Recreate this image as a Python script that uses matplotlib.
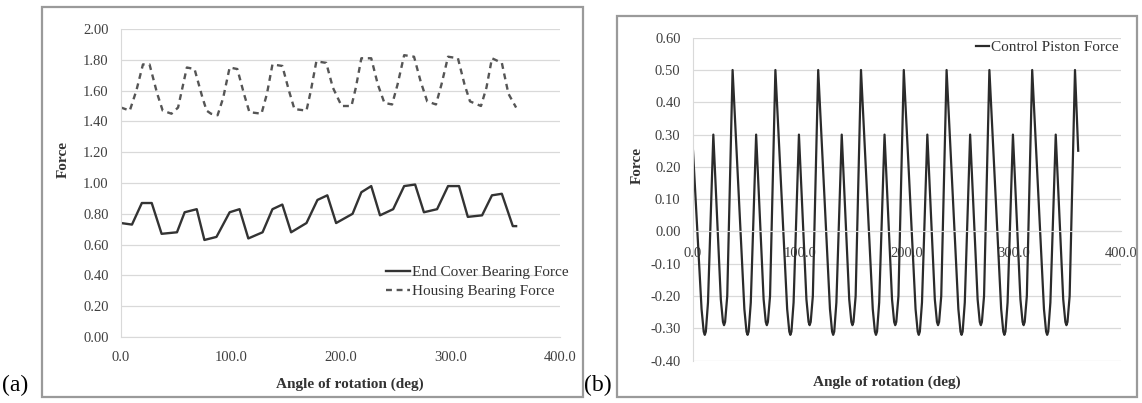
import matplotlib.pyplot as plt
from matplotlib.patches import Rectangle

# (a) bearing forces
ec_angle = [0, 10, 19, 28, 37, 51, 58, 69, 76, 87, 99, 108, 116, 129, 138, 147,
            155, 169, 179, 188, 196, 211, 219, 228, 236, 248, 258, 268, 276,
            288, 298, 308, 316, 329, 338, 347, 357, 360]
ec_force = [0.74, 0.73, 0.87, 0.87, 0.67, 0.68, 0.81, 0.83, 0.63, 0.65, 0.81, 0.83,
            0.64, 0.68, 0.83, 0.86, 0.68, 0.74, 0.89, 0.92, 0.74, 0.80, 0.94, 0.98,
            0.79, 0.83, 0.98, 0.99, 0.81, 0.83, 0.98, 0.98, 0.78, 0.79, 0.92, 0.93,
            0.72, 0.72]

hb_angle = [0, 8, 14, 20, 26, 33, 38, 46, 52, 60, 67, 74, 78, 82, 88, 93, 99, 106,
            112, 117, 128, 133, 138, 147, 153, 158, 169, 173, 178, 187, 193, 201,
            210, 214, 219, 228, 234, 240, 247, 252, 258, 267, 273, 279, 287, 292,
            298, 307, 313, 318, 328, 333, 338, 347, 353, 360]
hb_force = [1.49, 1.47, 1.60, 1.77, 1.77, 1.58, 1.47, 1.45, 1.49, 1.75, 1.74, 1.56,
            1.47, 1.45, 1.44, 1.55, 1.75, 1.74, 1.58, 1.46, 1.45, 1.58, 1.77, 1.76,
            1.60, 1.48, 1.47, 1.60, 1.79, 1.78, 1.62, 1.50, 1.50, 1.62, 1.81, 1.81,
            1.64, 1.52, 1.51, 1.64, 1.83, 1.82, 1.66, 1.53, 1.51, 1.64, 1.82, 1.81,
            1.64, 1.53, 1.50, 1.62, 1.81, 1.78, 1.58, 1.49]

# (b) control piston force
cp_angle = [0,
            8, 10, 11, 12, 14, 19, 26, 28, 29, 30, 32, 37,
            48, 50, 51, 52, 54, 59, 66, 68, 69, 70, 72, 77,
            88, 90, 91, 92, 94, 99, 106, 108, 109, 110, 112, 117,
            128, 130, 131, 132, 134, 139, 146, 148, 149, 150, 152, 157,
            168, 170, 171, 172, 174, 179, 186, 188, 189, 190, 192, 197,
            208, 210, 211, 212, 214, 219, 226, 228, 229, 230, 232, 237,
            248, 250, 251, 252, 254, 259, 266, 268, 269, 270, 272, 277,
            288, 290, 291, 292, 294, 299, 306, 308, 309, 310, 312, 317,
            328, 330, 331, 332, 334, 339, 346, 348, 349, 350, 352, 357,
            360]
cp_force = [0.25,
            -0.24, -0.31, -0.32, -0.31, -0.22, 0.30, -0.21, -0.28, -0.29, -0.28, -0.20, 0.50,
            -0.24, -0.31, -0.32, -0.31, -0.22, 0.30, -0.21, -0.28, -0.29, -0.28, -0.20, 0.50,
            -0.24, -0.31, -0.32, -0.31, -0.22, 0.30, -0.21, -0.28, -0.29, -0.28, -0.20, 0.50,
            -0.24, -0.31, -0.32, -0.31, -0.22, 0.30, -0.21, -0.28, -0.29, -0.28, -0.20, 0.50,
            -0.24, -0.31, -0.32, -0.31, -0.22, 0.30, -0.21, -0.28, -0.29, -0.28, -0.20, 0.50,
            -0.24, -0.31, -0.32, -0.31, -0.22, 0.30, -0.21, -0.28, -0.29, -0.28, -0.20, 0.50,
            -0.24, -0.31, -0.32, -0.31, -0.22, 0.30, -0.21, -0.28, -0.29, -0.28, -0.20, 0.50,
            -0.24, -0.31, -0.32, -0.31, -0.22, 0.30, -0.21, -0.28, -0.29, -0.28, -0.20, 0.50,
            -0.24, -0.31, -0.32, -0.31, -0.22, 0.30, -0.21, -0.28, -0.29, -0.28, -0.20, 0.50,
            0.25]

x_ticks = [0, 100, 200, 300, 400]
ya_ticks = [0.0, 0.2, 0.4, 0.6, 0.8, 1.0, 1.2, 1.4, 1.6, 1.8, 2.0]
yb_ticks = [-0.4, -0.3, -0.2, -0.1, 0.0, 0.1, 0.2, 0.3, 0.4, 0.5, 0.6]

plt.rcParams['font.family'] = ['Liberation Serif', 'DejaVu Serif']
W, H = 1142, 403
fig = plt.figure(figsize=(W / 100, H / 100), dpi=100)
fig.patch.set_facecolor('white')


def px(x0, y0, x1, y1):
    # pixel box (top-left origin) -> figure fraction rect
    return [x0 / W, 1 - y1 / H, (x1 - x0) / W, (y1 - y0) / H]


# chart area borders
for (x0, y0, x1, y1) in [(42, 7, 583, 397), (617, 16, 1137, 397)]:
    fig.add_artist(Rectangle((x0 / W, 1 - y1 / H), (x1 - x0) / W, (y1 - y0) / H,
                             transform=fig.transFigure, fill=False,
                             edgecolor='#9a9a9a', linewidth=1.6))

grid_c = '#d9d9d9'
tick_c = '#404040'

# ---- (a)
ax1 = fig.add_axes(px(121, 29, 560, 337))
ax1.plot(ec_angle, ec_force, color='#333333', lw=1.7, label='End Cover Bearing Force')
ax1.plot(hb_angle, hb_force, color='#555555', lw=1.7, ls=(0, (2.5, 2)),
         label='Housing Bearing Force')
ax1.set_xlim(0, 400)
ax1.set_ylim(0, 2.0)
ax1.set_xticks(x_ticks)
ax1.set_xticklabels(['%.1f' % v for v in x_ticks])
ax1.set_yticks(ya_ticks)
ax1.set_yticklabels(['%.2f' % v for v in ya_ticks])
ax1.grid(axis='y', color=grid_c, lw=0.9)
ax1.set_axisbelow(True)
for s in ['top', 'right']:
    ax1.spines[s].set_visible(False)
for s in ['left', 'bottom']:
    ax1.spines[s].set_color(grid_c)
ax1.tick_params(axis='y', length=0, pad=9, labelsize=10.5, labelcolor=tick_c)
ax1.tick_params(axis='x', length=0, pad=10, labelsize=10.5, labelcolor=tick_c)
ax1.legend(loc='center left', bbox_to_anchor=(378 / W, 1 - 282 / H),
           bbox_transform=fig.transFigure, frameon=False, fontsize=11,
           handlelength=1.6, handletextpad=0.15, labelspacing=0.35,
           borderpad=0, labelcolor='#333333')

fig.text(63 / W, 1 - 160 / H, 'Force', rotation=90, ha='center', va='center',
         fontsize=11, fontweight='bold', color='#333333')
fig.text(350 / W, 1 - 384 / H, 'Angle of rotation (deg)', ha='center', va='center',
         fontsize=11, fontweight='bold', color='#333333')
fig.text(2 / W, 1 - 385 / H, '(a)', ha='left', va='center', fontsize=17)

# ---- (b)
ax2 = fig.add_axes(px(693, 37.7, 1121, 360.7))
ax2.plot(cp_angle, cp_force, color='#2b2b2b', lw=1.6, label='Control Piston Force')
ax2.set_xlim(0, 400)
ax2.set_ylim(-0.4, 0.6)
ax2.set_xticks(x_ticks)
ax2.set_xticklabels(['%.1f' % v for v in x_ticks])
ax2.set_yticks(yb_ticks)
ax2.set_yticklabels(['%.2f' % v for v in yb_ticks])
ax2.grid(axis='y', color=grid_c, lw=0.9)
ax2.set_axisbelow(True)
for s in ['top', 'right']:
    ax2.spines[s].set_visible(False)
ax2.spines['bottom'].set_position(('data', 0))
ax2.spines['bottom'].set_color(grid_c)
ax2.spines['left'].set_color(grid_c)
ax2.tick_params(axis='y', length=0, pad=9, labelsize=10.5, labelcolor=tick_c)
ax2.tick_params(axis='x', length=0, pad=11, labelsize=10.5, labelcolor=tick_c)
ax2.legend(loc='center left', bbox_to_anchor=(968 / W, 1 - 47 / H),
           bbox_transform=fig.transFigure, frameon=False, fontsize=11,
           handlelength=0.9, handletextpad=0.1, borderpad=0,
           labelcolor='#333333')

fig.text(637 / W, 1 - 165 / H, 'Force', rotation=90, ha='center', va='center',
         fontsize=11, fontweight='bold', color='#333333')
fig.text(887 / W, 1 - 382 / H, 'Angle of rotation (deg)', ha='center', va='center',
         fontsize=11, fontweight='bold', color='#333333')
fig.text(584 / W, 1 - 385 / H, '(b)', ha='left', va='center', fontsize=17)

fig.savefig('out.png', dpi=100)
